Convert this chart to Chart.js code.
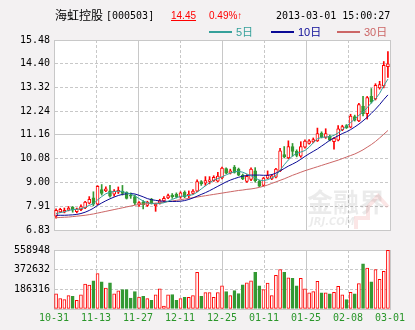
<!DOCTYPE html>
<html>
<head>
<meta charset="utf-8">
<script src="https://cdn.jsdelivr.net/npm/chart.js@4.4.0/dist/chart.umd.min.js"></script>
<style>
html, body { margin: 0; padding: 0; background: #f3f1f2; }
#wrap { position: relative; width: 415px; height: 330px; }
canvas { position: absolute; left: 0; }
#priceCanvas { top: 0; }
#volCanvas { top: 240px; }
</style>
</head>
<body>
<div id="wrap">
  <canvas id="priceCanvas" width="415" height="240"></canvas>
  <canvas id="volCanvas" width="415" height="90"></canvas>
</div>
<script>
// Header info
const stockName = '海虹控股';
const stockCode = '000503';
const lastPrice = '14.45';
const changePct = '0.49%↑';
const quoteTime = '2013-03-01 15:00:27';

// Axis labels
const xLabels = ['10-31', '11-13', '11-27', '12-11', '12-25', '01-11', '01-25', '02-08', '03-01'];
const priceTicks = [6.83, 7.91, 9.00, 10.08, 11.16, 12.24, 13.32, 14.40, 15.48];
const volumeTicks = [0, 186316, 372632, 558948];

// Daily candles, 10-31 .. 03-01
const openPrices = [
    7.46, 7.65, 7.64, 7.73, 7.86, 7.67, 7.76, 7.83, 8.05, 8.30,
    8.01, 8.67, 8.61, 8.61, 8.46, 8.55, 8.60, 8.54, 8.42, 8.35,
    7.99, 8.10, 7.95, 8.23, 7.93, 8.05, 8.15, 8.29, 8.42, 8.45,
    8.32, 8.54, 8.38, 8.49, 8.60, 9.04, 8.96, 9.04, 9.08, 9.05,
    9.20, 9.63, 9.42, 9.70, 9.60, 9.33, 9.04, 9.13, 9.52, 9.05,
    8.86, 9.19, 9.16, 9.23, 9.52, 10.26, 10.11, 10.63, 10.41, 10.19,
    10.60, 10.77, 10.84, 10.89, 11.24, 11.04, 11.10, 10.85, 10.92, 11.39,
    11.58, 11.51, 11.99, 11.80, 12.47, 12.13, 12.91, 12.80, 13.30, 13.39,
    14.27
];
const closePrices = [
    7.73, 7.77, 7.73, 7.83, 7.73, 7.79, 7.90, 8.10, 8.23, 8.01,
    8.82, 8.49, 8.71, 8.37, 8.60, 8.64, 8.49, 8.27, 8.37, 8.05,
    8.08, 7.98, 8.10, 8.05, 8.01, 8.17, 8.27, 8.40, 8.35, 8.35,
    8.52, 8.35, 8.45, 8.60, 9.04, 8.93, 9.08, 9.11, 9.23, 9.28,
    9.65, 9.42, 9.52, 9.45, 9.33, 9.16, 9.27, 9.60, 9.08, 8.83,
    9.19, 9.33, 9.30, 9.60, 10.44, 10.16, 10.63, 10.41, 10.22, 10.63,
    10.88, 10.89, 10.95, 11.22, 11.07, 11.22, 10.92, 11.00, 11.44, 11.54,
    11.48, 12.02, 11.83, 12.54, 12.13, 12.86, 12.66, 13.42, 13.45, 14.33,
    14.40
];
const highPrices = [
    7.79, 7.82, 7.83, 7.90, 7.90, 7.83, 7.98, 8.13, 8.35, 8.57,
    8.85, 8.90, 8.79, 8.86, 8.67, 8.79, 8.86, 8.57, 8.52, 8.42,
    8.12, 8.17, 8.14, 8.27, 8.05, 8.23, 8.35, 8.46, 8.49, 8.52,
    8.57, 8.61, 8.61, 8.67, 9.11, 9.08, 9.26, 9.26, 9.30, 9.45,
    9.70, 9.66, 9.60, 9.77, 9.65, 9.38, 9.35, 9.66, 9.67, 9.10,
    9.23, 9.52, 9.36, 9.64, 10.55, 10.63, 10.89, 10.77, 10.48, 10.85,
    10.94, 10.95, 11.02, 11.47, 11.30, 11.44, 11.15, 11.04, 11.58, 11.60,
    11.63, 12.10, 12.06, 12.60, 12.91, 12.91, 13.27, 13.49, 13.60, 14.50,
    14.95
];
const lowPrices = [
    7.37, 7.62, 7.61, 7.70, 7.64, 7.61, 7.71, 7.80, 8.02, 7.93,
    7.98, 8.42, 8.58, 8.32, 8.37, 8.49, 8.42, 8.24, 8.27, 7.98,
    7.90, 7.79, 7.90, 8.01, 7.68, 8.01, 8.11, 8.26, 8.27, 8.29,
    8.27, 8.30, 8.30, 8.46, 8.57, 8.86, 8.86, 8.93, 9.04, 9.02,
    9.15, 9.40, 9.38, 9.42, 9.30, 9.12, 9.00, 9.08, 9.01, 8.80,
    8.83, 9.16, 9.12, 9.20, 9.48, 10.11, 10.07, 10.19, 10.16, 10.14,
    10.55, 10.74, 10.80, 10.86, 11.02, 11.00, 10.88, 10.51, 10.88, 11.35,
    11.45, 11.48, 11.79, 11.76, 12.02, 11.88, 12.61, 12.75, 13.24, 13.30,
    13.78
];
const volumes = [
    144000, 98000, 89000, 126000, 119000, 82000, 135000, 235000, 226000, 266000,
    336000, 257000, 199000, 247000, 144000, 171000, 183000, 183000, 104000, 165000,
    113000, 119000, 98000, 82000, 135000, 190000, 27000, 135000, 137000, 82000,
    98000, 110000, 110000, 128000, 348000, 119000, 156000, 156000, 110000, 156000,
    220000, 165000, 128000, 174000, 147000, 229000, 247000, 266000, 348000, 220000,
    183000, 245000, 128000, 318000, 373000, 348000, 296000, 290000, 220000, 290000,
    192000, 153000, 165000, 263000, 153000, 153000, 144000, 159000, 214000, 135000,
    89000, 159000, 144000, 241000, 428000, 388000, 257000, 373000, 281000, 357000,
    555000
];

// Moving averages
const ma5 = [
    7.58, 7.62, 7.66, 7.72, 7.76, 7.77, 7.80, 7.86, 7.95, 8.02,
    8.20, 8.35, 8.48, 8.55, 8.58, 8.60, 8.58, 8.52, 8.47, 8.38,
    8.26, 8.15, 8.07, 8.04, 8.02, 8.04, 8.07, 8.14, 8.22, 8.30,
    8.36, 8.38, 8.40, 8.44, 8.55, 8.70, 8.84, 8.98, 9.10, 9.17,
    9.25, 9.34, 9.42, 9.48, 9.50, 9.46, 9.38, 9.30, 9.20, 9.10,
    9.08, 9.12, 9.20, 9.30, 9.55, 9.80, 10.02, 10.20, 10.32, 10.38,
    10.45, 10.60, 10.80, 10.98, 11.05, 11.06, 11.08, 11.14, 11.25, 11.40,
    11.55, 11.72, 11.88, 12.05, 12.20, 12.40, 12.62, 12.80, 13.05, 13.40,
    13.70
];
const ma10 = [
    7.50, 7.50, 7.50, 7.51, 7.52, 7.54, 7.58, 7.64, 7.72, 7.82,
    7.95, 8.06, 8.16, 8.25, 8.33, 8.40, 8.45, 8.48, 8.49, 8.47,
    8.41, 8.34, 8.26, 8.21, 8.18, 8.15, 8.14, 8.13, 8.13, 8.13,
    8.14, 8.17, 8.22, 8.29, 8.37, 8.45, 8.53, 8.62, 8.72, 8.82,
    8.92, 9.02, 9.10, 9.17, 9.23, 9.28, 9.31, 9.33, 9.33, 9.33,
    9.32, 9.32, 9.35, 9.42, 9.52, 9.63, 9.74, 9.83, 9.93, 10.05,
    10.18, 10.30, 10.41, 10.52, 10.65, 10.78, 10.92, 11.02, 11.12, 11.22,
    11.30, 11.40, 11.52, 11.65, 11.80, 11.96, 12.14, 12.33, 12.54, 12.77,
    12.98
];
const ma30 = [
    7.39, 7.40, 7.41, 7.42, 7.44, 7.46, 7.48, 7.50, 7.53, 7.56,
    7.60, 7.64, 7.68, 7.72, 7.76, 7.80, 7.84, 7.88, 7.92, 7.96,
    7.99, 8.01, 8.03, 8.04, 8.05, 8.07, 8.09, 8.12, 8.15, 8.18,
    8.21, 8.24, 8.27, 8.30, 8.33, 8.36, 8.39, 8.42, 8.45, 8.48,
    8.51, 8.54, 8.57, 8.60, 8.63, 8.65, 8.68, 8.70, 8.73, 8.77,
    8.82, 8.88, 8.95, 9.02, 9.09, 9.16, 9.24, 9.32, 9.39, 9.46,
    9.53, 9.59, 9.65, 9.71, 9.77, 9.83, 9.89, 9.95, 10.01, 10.08,
    10.15, 10.22, 10.29, 10.38, 10.48, 10.60, 10.72, 10.86, 11.02, 11.19,
    11.36
];

const UP = '#ff0000';
const DOWN = '#339933';
const GRID = '#c8c8c8';
const MONO = 'DejaVu Sans Mono';
const CJK = 'Noto Sans CJK SC';
const MA5_COLOR = '#35a09a';
const MA10_COLOR = '#0a0a96';
const MA30_COLOR = '#cc6666';

Chart.defaults.font.family = MONO;
Chart.defaults.font.size = 10;

const xMin = -0.5;
const xMax = closePrices.length - 0.5;
const xStep = (xMax - xMin) / (xLabels.length - 1);

const isUp = closePrices.map((c, i) => c >= openPrices[i]);
const wickData = closePrices.map((c, i) => ({ x: i, y: [lowPrices[i], highPrices[i]] }));
const bodyData = closePrices.map((c, i) => ({ x: i, y: [openPrices[i], closePrices[i]] }));
const volData = volumes.map((v, i) => ({ x: i, y: v }));
const toPoints = arr => arr.map((v, i) => ({ x: i, y: v }));

function xScale(showLabels) {
    return {
        type: 'linear',
        min: xMin,
        max: xMax,
        offset: false,
        afterBuildTicks: s => { s.ticks = xLabels.map((_, k) => ({ value: xMin + k * xStep })); },
        afterFit: s => { s.height = showLabels ? 21 : 0; },
        grid: { color: GRID, drawTicks: false, offset: false },
        border: { color: GRID, dash: c => (c.index % 2 ? [3, 2] : []) },
        ticks: {
            display: showLabels,
            autoSkip: false,
            maxRotation: 0,
            padding: 3,
            color: '#2a962a',
            font: { family: MONO, size: 10 },
            callback: (v, k) => xLabels[k]
        }
    };
}

// white plot background
const plotBg = {
    id: 'plotBg',
    beforeDraw(chart) {
        const { ctx, chartArea: a } = chart;
        ctx.save();
        ctx.fillStyle = '#ffffff';
        ctx.fillRect(a.left, a.top, a.right - a.left, a.bottom - a.top);
        ctx.restore();
    }
};

// faint site watermark
const watermark = {
    id: 'watermark',
    beforeDatasetsDraw(chart) {
        const c = chart.ctx;
        c.save();
        c.strokeStyle = 'rgba(235,140,140,0.22)';
        c.lineWidth = 4;
        c.beginPath();
        c.moveTo(356, 229);
        c.lineTo(356, 218);
        c.lineTo(368, 218);
        c.lineTo(368, 207);
        c.lineTo(378, 196);
        c.lineTo(388, 207);
        c.stroke();
        c.fillStyle = 'rgba(0,0,0,0.08)';
        c.font = 'bold 26px "' + CJK + '"';
        c.fillText('金融界', 307, 212);
        c.font = 'italic bold 10px "DejaVu Sans"';
        c.fillText('JRJ.COM', 310, 225);
        c.restore();
    }
};

// quote line and MA legend above the plot
const header = {
    id: 'header',
    afterDraw(chart) {
        const c = chart.ctx;
        c.save();
        c.textBaseline = 'alphabetic';
        c.fillStyle = '#000';
        c.font = '12px "' + CJK + '"';
        c.fillText(stockName, 55, 20);
        c.font = '10px "' + MONO + '"';
        c.fillText('[' + stockCode + ']', 106, 19);
        c.fillText(quoteTime, 276, 19);

        c.fillStyle = UP;
        c.font = '10px "Liberation Sans"';
        c.fillText(lastPrice, 171, 19);
        c.fillRect(171, 20, c.measureText(lastPrice).width, 1);
        c.fillText(changePct, 209, 19);

        const items = [['5日', MA5_COLOR, 209], ['10日', MA10_COLOR, 271], ['30日', MA30_COLOR, 337]];
        c.font = '11px "Liberation Sans", "' + CJK + '"';
        items.forEach(([label, color, x]) => {
            c.fillStyle = color;
            c.fillRect(x, 31, 23, 2);
            c.fillText(label, x + 27, 36);
        });
        c.restore();
    }
};

const maLine = (data, color) => ({
    type: 'line',
    data: toPoints(data),
    borderColor: color,
    borderWidth: 1,
    pointRadius: 0,
    tension: 0,
    order: 0
});

new Chart(document.getElementById('priceCanvas'), {
    type: 'bar',
    data: {
        datasets: [
            maLine(ma5, MA5_COLOR),
            maLine(ma10, MA10_COLOR),
            maLine(ma30, MA30_COLOR),
            {
                data: bodyData,
                grouped: false,
                barThickness: 3,
                minBarLength: 1,
                backgroundColor: isUp.map(u => (u ? '#ffffff' : DOWN)),
                borderColor: isUp.map(u => (u ? UP : DOWN)),
                borderWidth: 1,
                borderSkipped: false,
                order: 1
            },
            {
                data: wickData,
                grouped: false,
                barThickness: 1,
                backgroundColor: isUp.map(u => (u ? UP : DOWN)),
                borderWidth: 0,
                order: 2
            }
        ]
    },
    options: {
        responsive: false,
        animation: false,
        devicePixelRatio: 1,
        layout: { padding: { top: 40, right: 25, bottom: 4, left: 0 } },
        plugins: { legend: { display: false }, tooltip: { enabled: false } },
        scales: {
            x: xScale(false),
            y: {
                min: priceTicks[0],
                max: priceTicks[priceTicks.length - 1],
                afterBuildTicks: s => { s.ticks = priceTicks.map(v => ({ value: v })); },
                afterFit: s => { s.width = 54; },
                grid: { color: GRID, drawTicks: false },
                border: { color: GRID, dash: c => (c.index % 4 ? [3, 2] : []) },
                ticks: { padding: 4, color: '#000', font: { family: MONO, size: 10 }, callback: v => v.toFixed(2) }
            }
        }
    },
    plugins: [plotBg, watermark, header]
});

new Chart(document.getElementById('volCanvas'), {
    type: 'bar',
    data: {
        datasets: [{
            data: volData,
            grouped: false,
            barThickness: 3,
            backgroundColor: isUp.map(u => (u ? '#ffffff' : DOWN)),
            borderColor: isUp.map(u => (u ? UP : DOWN)),
            borderWidth: 1,
            borderSkipped: false
        }]
    },
    options: {
        responsive: false,
        animation: false,
        devicePixelRatio: 1,
        layout: { padding: { top: 8, right: 25, bottom: 0, left: 0 } },
        plugins: { legend: { display: false }, tooltip: { enabled: false } },
        scales: {
            x: xScale(true),
            y: {
                min: 0,
                max: volumeTicks[volumeTicks.length - 1],
                afterBuildTicks: s => { s.ticks = volumeTicks.map(v => ({ value: v })); },
                afterFit: s => { s.width = 54; },
                grid: { color: GRID, drawTicks: false },
                border: { color: GRID, dash: c => (c.index % 3 ? [3, 2] : []) },
                ticks: { padding: 4, color: '#000', font: { family: MONO, size: 10 }, callback: v => (v ? String(v) : '') }
            }
        }
    },
    plugins: [plotBg]
});
</script>
</body>
</html>
